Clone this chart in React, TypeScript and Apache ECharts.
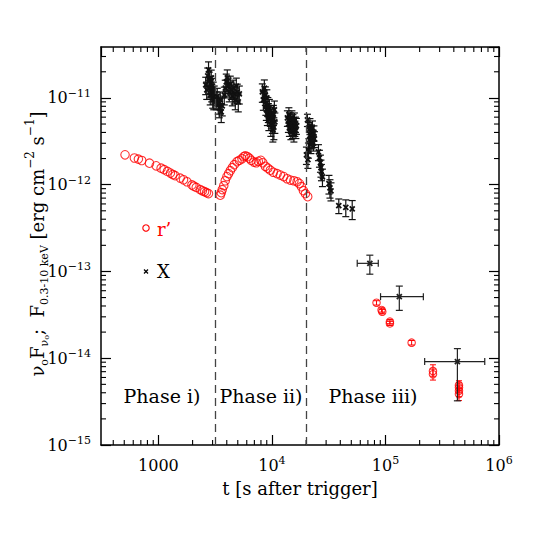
import React, { useEffect, useRef } from 'react';
import * as echarts from 'echarts';

// ---- axis ranges ----
const T_MIN = 312;
const T_MAX = 1e6;
const F_MIN = 1e-15;
const F_MAX = 3.86e-11;

const phaseBoundaries = [3160, 2.0e4];
const phaseLabels = ['Phase i)', 'Phase ii)', 'Phase iii)'];
const legendLabels = ['r’', 'X'];
const xTitle = 't [s after trigger]';

// ---- optical r' (phases i & ii) ----
const opticalT = [
  508, 614, 666, 713, 834, 955, 1056, 1123, 1200, 1276, 1340, 1404, 1555, 1664, 1783, 1973, 2050, 2153, 2335, 2440, 2548, 2650, 2761,
  3505, 3576, 3649, 3763, 3879, 4015, 4148, 4294, 4472, 4658, 4920, 5157, 5446, 5649, 5825, 6067, 6318, 6579, 6923, 7282,
  7585, 7981, 8311, 8746, 9201, 9681, 10289, 11092, 11864, 12686, 13593, 14537, 15611, 16658, 17449, 18172, 18928, 19715, 20661,
];
const opticalF = [
  2.21e-12, 2.03e-12, 1.97e-12, 1.9e-12, 1.77e-12, 1.65e-12, 1.55e-12, 1.49e-12, 1.42e-12, 1.36e-12, 1.31e-12, 1.27e-12,
  1.19e-12, 1.14e-12, 1.08e-12, 9.93e-13, 9.6e-13, 9.31e-13, 8.76e-13, 8.5e-13, 8.31e-13, 8.1e-13, 7.89e-13,
  7.57e-13, 8.09e-13, 8.77e-13, 9.75e-13, 1.11e-12, 1.24e-12, 1.34e-12, 1.45e-12, 1.57e-12, 1.7e-12, 1.84e-12, 1.91e-12,
  1.99e-12, 2.1e-12, 2.15e-12, 2.1e-12, 2.02e-12, 1.91e-12, 1.82e-12, 1.79e-12, 1.86e-12, 1.91e-12, 1.79e-12, 1.63e-12,
  1.55e-12, 1.47e-12, 1.39e-12, 1.34e-12, 1.29e-12, 1.24e-12, 1.17e-12, 1.13e-12, 1.11e-12, 1.08e-12, 1.03e-12, 9.48e-13,
  8.53e-13, 7.88e-13, 7.28e-13,
];

// ---- optical r' (phase iii, with errors) ----
const opticalLateT = [8.34e4, 9.24e4, 9.37e4, 1.094e5, 1.094e5, 1.7e5, 2.62e5, 2.62e5, 4.44e5, 4.44e5, 4.44e5, 4.44e5];
const opticalLateF = [4.36e-14, 3.59e-14, 3.44e-14, 2.64e-14, 2.52e-14, 1.51e-14, 7.14e-15, 6.54e-15, 4.89e-15, 4.6e-15, 4.21e-15, 3.86e-15];
const opticalLateLo = [4.1e-14, 3.4e-14, 3.25e-14, 2.5e-14, 2.38e-14, 1.42e-14, 6.2e-15, 5.6e-15, 4.3e-15, 4.0e-15, 3.6e-15, 3.25e-15];
const opticalLateHi = [4.6e-14, 3.8e-14, 3.65e-14, 2.8e-14, 2.66e-14, 1.6e-14, 8.4e-15, 7.5e-15, 5.5e-15, 5.2e-15, 4.8e-15, 4.5e-15];

// ---- X-ray 0.3-10 keV (flux ± error) ----
const xrayT = [
  2610, 2664, 2718, 2763, 2803, 2831, 2860, 2889, 2918, 2948, 2979, 3009, 3040, 3071, 3102, 3230, 3297, 3365, 3434, 3505, 3576, 3649,
  3802, 3879, 3959, 4041, 4123, 4207, 4294, 4383, 4472, 4564, 4658, 4753, 4851, 4950, 5052, 5157,
  8228, 8397, 8569, 8746, 8836, 8925, 9016, 9109, 9201, 9295, 9390, 9486, 9681, 9779, 9879, 10081, 10184, 10289, 10394, 10500, 10607,
  13675, 13957, 14099, 14243, 14537, 14686, 14836, 14987, 15141, 15296, 15452, 15610, 15769, 15930, 16094, 16258, 16426,
  20122, 20534, 20743, 20957, 21170, 21386, 21604, 21824, 22046, 22270, 22502, 22731, 22963, 23196, 23433, 23671,
  25675, 26200, 26743, 27015, 27290, 27850,
  31782, 32432, 33113,
  38790, 44720, 50933,
];
const xrayF = [
  1.41e-11, 1.24e-11, 1.79e-11, 2.1e-11, 1.61e-11, 1.3e-11, 1.08e-11, 1.45e-11, 1.7e-11, 1.17e-11, 1.37e-11, 1.0e-11, 1.24e-11,
  9.5e-12, 1.11e-11, 9.5e-12, 1.05e-11, 8.5e-12, 7.7e-12, 9.5e-12, 6.9e-12, 8.1e-12,
  1.08e-11, 1.3e-11, 1.53e-11, 1.7e-11, 1.37e-11, 1.17e-11, 1.45e-11, 1.24e-11, 1.05e-11, 1.3e-11, 1.11e-11, 9.5e-12, 1.37e-11,
  1.17e-11, 9.0e-12, 1.11e-11,
  1.17e-11, 9.5e-12, 1.3e-11, 1.08e-11, 8.3e-12, 7.3e-12, 1.0e-11, 6.4e-12, 8.1e-12, 6.9e-12, 5.6e-12, 7.7e-12, 6.2e-12, 4.9e-12,
  5.9e-12, 5.3e-12, 4.3e-12, 6.5e-12, 4.6e-12, 7.3e-12, 5.3e-12,
  5.9e-12, 5.0e-12, 6.4e-12, 4.5e-12, 5.6e-12, 4.1e-12, 4.9e-12, 5.9e-12, 4.3e-12, 5.3e-12, 4.6e-12, 3.9e-12, 5.6e-12, 4.5e-12,
  5.0e-12, 4.2e-12, 4.8e-12,
  2.21e-12, 5.58e-12, 1.94e-12, 2.52e-12, 4.29e-12, 3.29e-12, 4.77e-12, 3.76e-12, 2.88e-12, 4.07e-12, 3.29e-12, 4.52e-12, 3.56e-12,
  3.04e-12, 3.96e-12, 3.38e-12,
  2.39e-12, 2.04e-12, 1.79e-12, 1.57e-12, 1.41e-12, 1.23e-12,
  1.03e-12, 9.2e-13, 8.5e-13,
  5.74e-13, 5.48e-13, 5.26e-13,
];
const xrayErr = [
  3.2e-12, 2.8e-12, 4.2e-12, 5.0e-12, 3.7e-12, 3.0e-12, 2.5e-12, 3.3e-12, 3.9e-12, 2.7e-12, 3.1e-12, 2.4e-12, 2.8e-12,
  2.2e-12, 2.6e-12, 2.2e-12, 2.4e-12, 2.0e-12, 1.8e-12, 2.2e-12, 1.7e-12, 1.9e-12,
  2.5e-12, 3.0e-12, 3.5e-12, 4.0e-12, 3.2e-12, 2.7e-12, 3.3e-12, 2.8e-12, 2.4e-12, 3.0e-12, 2.6e-12, 2.2e-12, 3.2e-12,
  2.7e-12, 2.1e-12, 2.6e-12,
  2.8e-12, 2.3e-12, 3.1e-12, 2.6e-12, 2.0e-12, 1.8e-12, 2.4e-12, 1.6e-12, 2.0e-12, 1.7e-12, 1.4e-12, 1.9e-12, 1.5e-12, 1.3e-12,
  1.5e-12, 1.4e-12, 1.2e-12, 1.7e-12, 1.3e-12, 1.9e-12, 1.4e-12,
  1.2e-12, 1.0e-12, 1.3e-12, 9e-13, 1.1e-12, 8e-13, 1.0e-12, 1.2e-12, 9e-13, 1.1e-12, 9e-13, 8e-13, 1.1e-12, 9e-13,
  1.0e-12, 8e-13, 1.0e-12,
  5e-13, 9e-13, 4e-13, 5e-13, 9e-13, 7e-13, 1.0e-12, 8e-13, 6e-13, 8e-13, 7e-13, 9e-13, 7e-13,
  6e-13, 8e-13, 7e-13,
  5e-13, 4.5e-13, 4e-13, 3.5e-13, 3e-13, 2.8e-13,
  2.5e-13, 2.2e-13, 2.0e-13,
  1.1e-13, 1.2e-13, 1.3e-13,
];

// ---- X-ray late points with time bins ----
const xrayLateT = [7.283e4, 1.324e5, 4.3e5];
const xrayLateTLo = [5.638e4, 9.05e4, 2.214e5];
const xrayLateTHi = [8.64e4, 2.156e5, 7.49e5];
const xrayLateF = [1.24e-13, 5.12e-14, 9.16e-15];
const xrayLateFLo = [9.3e-14, 3.56e-14, 3.23e-15];
const xrayLateFHi = [1.54e-13, 6.78e-14, 1.29e-14];

const FONT = 'DejaVu Serif';
const L = (v: number) => Math.log10(v);
const isInt = (v: number) => Math.abs(v - Math.round(v)) < 1e-6;

const xFmt = (v: number) => {
  if (!isInt(v)) return '';
  const n = Math.round(v);
  return n === 3 ? '1000' : '10{sup|' + n + '}';
};
const yFmt = (v: number) => {
  if (!isInt(v)) return '';
  const n = Math.round(v);
  return '10{sup|' + (n < 0 ? '−' + -n : String(n)) + '}';
};

const supRich = { sup: { fontSize: 11, verticalAlign: 'top', lineHeight: 11, fontFamily: FONT, color: '#000' } };

function ln(x1: number, y1: number, x2: number, y2: number, color: string, w: number) {
  return { type: 'line', shape: { x1, y1, x2, y2 }, style: { stroke: color, lineWidth: w } };
}

function makeErrRender(color: string, cap: number, lw: number, marker: boolean) {
  return (params: any, api: any) => {
    const x = api.value(0);
    const y = api.value(1);
    const c = api.coord([x, y]);
    const lo = api.coord([x, api.value(2)]);
    const hi = api.coord([x, api.value(3)]);
    const children: any[] = [];
    children.push(ln(c[0], lo[1], c[0], hi[1], color, lw));
    children.push(ln(c[0] - cap, lo[1], c[0] + cap, lo[1], color, lw));
    children.push(ln(c[0] - cap, hi[1], c[0] + cap, hi[1], color, lw));
    const tl = api.value(4);
    const th = api.value(5);
    if (Math.abs(tl - x) > 1e-9 || Math.abs(th - x) > 1e-9) {
      const l = api.coord([tl, y]);
      const r = api.coord([th, y]);
      children.push(ln(l[0], c[1], r[0], c[1], color, lw));
      children.push(ln(l[0], c[1] - cap, l[0], c[1] + cap, color, lw));
      children.push(ln(r[0], c[1] - cap, r[0], c[1] + cap, color, lw));
    }
    if (marker) {
      const m = 2.5;
      children.push(ln(c[0] - m, c[1] - m, c[0] + m, c[1] + m, color, 1.8));
      children.push(ln(c[0] - m, c[1] + m, c[0] + m, c[1] - m, color, 1.8));
    }
    return { type: 'group', children };
  };
}

export default function App() {
  const ref = useRef<HTMLDivElement>(null);
  useEffect(() => {
    if (!ref.current) return;
    const chart = echarts.init(ref.current, undefined, { renderer: 'svg' });

    const xMin = L(T_MIN), xMax = L(T_MAX), yMin = L(F_MIN), yMax = L(F_MAX);

    const opticalData = opticalT.map((t, i) => [L(t), L(opticalF[i])]);
    const opticalLateData = opticalLateT.map((t, i) => [L(t), L(opticalLateF[i])]);
    const opticalLateErr = opticalLateT.map((t, i) => [
      L(t), L(opticalLateF[i]), L(opticalLateLo[i]), L(opticalLateHi[i]), L(t), L(t),
    ]);
    const xrayData = xrayT.map((t, i) => [
      L(t), L(xrayF[i]), L(xrayF[i] - xrayErr[i]), L(xrayF[i] + xrayErr[i]), L(t), L(t),
    ]);
    const xrayLateData = xrayLateT.map((t, i) => [
      L(t), L(xrayLateF[i]), L(xrayLateFLo[i]), L(xrayLateFHi[i]), L(xrayLateTLo[i]), L(xrayLateTHi[i]),
    ]);

    const axisLine = { onZero: false, lineStyle: { color: '#000', width: 1.5 } };
    const axisTick = { inside: true, length: 10, lineStyle: { color: '#000', width: 1.2 } };

    const tickRender = (params: any, api: any) => {
      const cs = params.coordSys;
      const top = cs.y, bot = cs.y + cs.height, left = cs.x, right = cs.x + cs.width;
      const children: any[] = [];
      for (let e = 2; e <= 5; e++) {
        for (let k = 2; k <= 9; k++) {
          const v = e + Math.log10(k);
          if (v <= xMin || v >= xMax) continue;
          const px = api.coord([v, yMin])[0];
          children.push(ln(px, bot, px, bot - 5, '#000', 1.1));
          children.push(ln(px, top, px, top + 5, '#000', 1.1));
        }
      }
      for (let e = -15; e <= -11; e++) {
        for (let k = 2; k <= 9; k++) {
          const v = e + Math.log10(k);
          if (v <= yMin || v >= yMax) continue;
          const py = api.coord([xMin, v])[1];
          children.push(ln(left, py, left + 5, py, '#000', 1.1));
          children.push(ln(right, py, right - 5, py, '#000', 1.1));
        }
      }
      return { type: 'group', children };
    };

    const phaseX = [162, 261, 373];

    chart.setOption({
      animation: false,
      backgroundColor: '#fff',
      textStyle: { fontFamily: FONT },
      grid: { left: 101, right: 46, top: 47, bottom: 100, containLabel: false, outerBoundsMode: 'none' },
      xAxis: [
        {
          type: 'value', position: 'bottom', min: xMin, max: xMax, minInterval: 1, maxInterval: 1,
          splitLine: { show: false }, axisLine, axisTick,
          axisLabel: {
            formatter: xFmt, fontFamily: FONT, fontSize: 16, color: '#000', margin: 10, lineHeight: 20,
            rich: supRich, showMinLabel: false,
          },
          name: xTitle, nameLocation: 'middle', nameGap: 33,
          nameTextStyle: { fontFamily: FONT, fontSize: 18, color: '#000' },
        },
        {
          type: 'value', position: 'top', min: xMin, max: xMax, minInterval: 1, maxInterval: 1,
          splitLine: { show: false }, axisLine, axisTick, axisLabel: { show: false },
        },
      ],
      yAxis: [
        {
          type: 'value', position: 'left', min: yMin, max: yMax, minInterval: 1, maxInterval: 1,
          splitLine: { show: false }, axisLine, axisTick,
          axisLabel: {
            formatter: yFmt, fontFamily: FONT, fontSize: 16, color: '#000', margin: 10, lineHeight: 20,
            rich: supRich, showMaxLabel: false,
          },
        },
        {
          type: 'value', position: 'right', min: yMin, max: yMax, minInterval: 1, maxInterval: 1,
          splitLine: { show: false }, axisLine, axisTick, axisLabel: { show: false },
        },
      ],
      series: [
        {
          type: 'custom', name: 'ticks', coordinateSystem: 'cartesian2d', silent: true, clip: false,
          data: [[xMin, yMin]], renderItem: tickRender, z: 1,
        },
        {
          type: 'scatter', name: 'r’', data: opticalData, symbol: 'circle', symbolSize: 8.5,
          itemStyle: { color: 'rgba(255,255,255,0)', borderColor: '#ff0000', borderWidth: 1.1 },
          z: 3,
          markLine: {
            silent: true, symbol: ['none', 'none'], label: { show: false },
            lineStyle: { color: '#444', type: [8, 5], width: 1.3 },
            data: phaseBoundaries.map((t) => ({ xAxis: L(t) })),
          },
        },
        {
          type: 'scatter', name: 'r’ late', data: opticalLateData, symbol: 'circle', symbolSize: 7.5,
          itemStyle: { color: 'rgba(255,255,255,0)', borderColor: '#ff0000', borderWidth: 1.1 }, z: 3,
        },
        {
          type: 'custom', name: 'r’ err', coordinateSystem: 'cartesian2d', silent: true,
          data: opticalLateErr, renderItem: makeErrRender('#ff0000', 3, 1, false), z: 3,
        },
        {
          type: 'custom', name: 'X', coordinateSystem: 'cartesian2d', silent: true,
          data: xrayData, renderItem: makeErrRender('#111', 3.5, 1.2, true), z: 4,
        },
        {
          type: 'custom', name: 'X late', coordinateSystem: 'cartesian2d', silent: true,
          data: xrayLateData, renderItem: makeErrRender('#222', 3.5, 1.2, true), z: 4,
        },
      ],
      graphic: [
        ...phaseLabels.map((s, i) => ({
          type: 'text', x: phaseX[i], y: 396,
          style: { text: s, fill: '#000', font: `19px "${FONT}"`, align: 'center', verticalAlign: 'middle' },
        })),
        { type: 'circle', shape: { cx: 146, cy: 228, r: 3.2 }, style: { fill: 'none', stroke: '#ff0000', lineWidth: 1.1 } },
        { type: 'text', x: 157, y: 229, style: { text: legendLabels[0], fill: '#ff0000', font: `18px "${FONT}"`, verticalAlign: 'middle' } },
        { type: 'line', shape: { x1: 144, y1: 269.5, x2: 148, y2: 273.5 }, style: { stroke: '#000', lineWidth: 1.3 } },
        { type: 'line', shape: { x1: 144, y1: 273.5, x2: 148, y2: 269.5 }, style: { stroke: '#000', lineWidth: 1.3 } },
        { type: 'text', x: 157, y: 271, style: { text: legendLabels[1], fill: '#000', font: `18px "${FONT}"`, verticalAlign: 'middle' } },
        {
          type: 'text', x: 37, y: 244, rotation: Math.PI / 2,
          style: {
            text: 'ν{sub|o}F{sub|ν}{ssub|o};  F{sub|0.3-10 keV} [erg cm{sup|−2} s{sup|−1}]',
            fill: '#000', font: `18px "${FONT}"`, align: 'center', verticalAlign: 'middle', lineHeight: 26,
            rich: {
              sub: { fontSize: 11, fontFamily: FONT, verticalAlign: 'bottom', lineHeight: 12, fill: '#000' },
              ssub: { fontSize: 8, fontFamily: FONT, verticalAlign: 'bottom', lineHeight: 8, fill: '#000' },
              sup: { fontSize: 12, fontFamily: FONT, verticalAlign: 'top', lineHeight: 13, fill: '#000' },
            },
          },
        },
      ],
    });
    return () => chart.dispose();
  }, []);
  return <div ref={ref} style={{ position: 'fixed', left: 0, top: 0, width: 545, height: 545 }} />;
}
